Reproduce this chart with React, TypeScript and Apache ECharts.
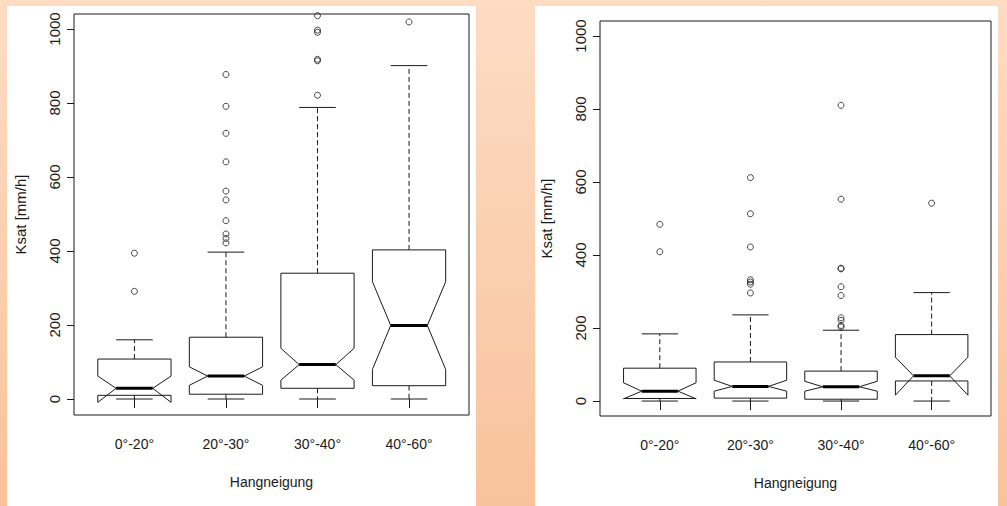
import React, { useEffect, useRef } from "react";
import * as echarts from "echarts";

const categories = ["0°-20°", "20°-30°", "30°-40°", "40°-60°"];
const yTicks = [0, 200, 400, 600, 800, 1000];
const xTicks = [1, 2, 3, 4];
const yAxisName = "Ksat [mm/h]";
const xAxisName = "Hangneigung";

// left panel
const leftLowerWhisker = [0, 0, 0, 0];
const leftQ1 = [10, 13, 29, 36];
const leftNotchLow = [-9, 37, 51, 80];
const leftMedian = [29, 62, 93, 199];
const leftNotchHigh = [62, 87, 137, 317];
const leftQ3 = [108, 167, 340, 403];
const leftUpperWhisker = [160, 397, 788, 901];
const leftOutliers = [
  [291, 394],
  [422, 434, 446, 482, 538, 562, 641, 718, 791, 877],
  [821, 914, 918, 991, 997, 1036],
  [1019],
];

// right panel
const rightLowerWhisker = [0, 0, 0, 0];
const rightQ1 = [7, 8, 5, 55];
const rightNotchLow = [6, 27, 27, 16];
const rightMedian = [27, 40, 39, 69];
const rightNotchHigh = [50, 57, 54, 120];
const rightQ3 = [90, 107, 82, 182];
const rightUpperWhisker = [184, 236, 194, 297];
const rightOutliers = [
  [409, 484],
  [296, 320, 326, 332, 422, 513, 612],
  [203, 207, 221, 228, 289, 313, 362, 364, 553, 810],
  [542],
];

const FONT = "'Liberation Sans', Arial, Helvetica, sans-serif";
const INK = "#1a1a1a";

function boxData(lw: number[], q1: number[], nl: number[], med: number[], nh: number[], q3: number[], uw: number[]) {
  return categories.map((_, i) => [i + 1, lw[i], q1[i], nl[i], med[i], nh[i], q3[i], uw[i]]);
}
function outlierData(o: number[][]) {
  const out: number[][] = [];
  o.forEach((vals, i) => vals.forEach((v) => out.push([i + 1, v])));
  return out;
}

function renderBox(params: any, api: any) {
  const x = api.value(0);
  const lw = api.value(1);
  const q1 = api.value(2);
  const nl = api.value(3);
  const med = api.value(4);
  const nh = api.value(5);
  const q3 = api.value(6);
  const uw = api.value(7);
  const w = 0.4;
  const P = (dx: number, v: number) => api.coord([x + dx, v]);
  const pts = [
    P(-w, q1), P(-w, nl), P(-w / 2, med), P(-w, nh), P(-w, q3),
    P(w, q3), P(w, nh), P(w / 2, med), P(w, nl), P(w, q1),
  ];
  const seg = (a: number[], b: number[], style: any) => ({
    type: "line",
    shape: { x1: a[0], y1: a[1], x2: b[0], y2: b[1] },
    style: Object.assign({ stroke: INK, lineWidth: 1 }, style),
  });
  return {
    type: "group",
    children: [
      seg(P(0, q3), P(0, uw), { lineDash: [5, 3] }),
      seg(P(0, q1), P(0, lw), { lineDash: [5, 3] }),
      seg(P(-0.2, uw), P(0.2, uw), {}),
      seg(P(-0.2, lw), P(0.2, lw), {}),
      { type: "polygon", shape: { points: pts }, style: { fill: "none", stroke: INK, lineWidth: 1 } },
      seg(P(-w / 2, med), P(w / 2, med), { lineWidth: 3, stroke: "#000" }),
    ],
  };
}

function makeAxes(idx: number, yMin: number, yMax: number) {
  const xAxis = {
    type: "value",
    gridIndex: idx,
    min: 0.34,
    max: 4.655,
    splitLine: { show: false },
    axisLine: { show: false },
    axisTick: { show: true, length: 9, customValues: xTicks, lineStyle: { color: INK } },
    axisLabel: {
      show: true,
      customValues: xTicks,
      formatter: (v: number) => categories[Math.round(v) - 1] || "",
      margin: 22,
      fontSize: 14,
      color: INK,
      fontFamily: FONT,
    },
    name: xAxisName,
    nameLocation: "middle",
    nameGap: 60,
    nameTextStyle: { fontSize: 14, color: INK, fontFamily: FONT },
  };
  const yAxis = {
    type: "value",
    gridIndex: idx,
    min: yMin,
    max: yMax,
    splitLine: { show: false },
    axisLine: { show: false },
    axisTick: { show: true, length: 7, customValues: yTicks, lineStyle: { color: INK } },
    axisLabel: {
      show: true,
      customValues: yTicks,
      formatter: (v: number) => String(Math.round(v)),
      rotate: 90,
      margin: 12,
      fontSize: 15,
      color: INK,
      fontFamily: FONT,
    },
    name: yAxisName,
    nameLocation: "middle",
    nameGap: 46,
    nameTextStyle: { fontSize: 15, color: INK, fontFamily: FONT },
  };
  return { xAxis, yAxis };
}

export default function App() {
  const ref = useRef<HTMLDivElement>(null);
  useEffect(() => {
    if (!ref.current) return;
    const chart = echarts.init(ref.current, null, { renderer: "svg" });
    const a0 = makeAxes(0, -43.2, 1040.5);
    const a1 = makeAxes(1, -41, 1041);
    const gridStyle = { show: true, borderColor: INK, borderWidth: 1, backgroundColor: "transparent" };
    chart.setOption({
      animation: false,
      graphic: [
        {
          type: "rect",
          z: -10,
          shape: { x: 0, y: 0, width: 1007, height: 506 },
          style: {
            fill: new echarts.graphic.LinearGradient(0, 0, 0, 1, [
              { offset: 0, color: "#fddcc4" },
              { offset: 1, color: "#f8c29c" },
            ]),
          },
        },
        { type: "rect", z: -9, shape: { x: 7, y: 6, width: 469, height: 500 }, style: { fill: "#ffffff" } },
        { type: "rect", z: -9, shape: { x: 535, y: 6, width: 463, height: 500 }, style: { fill: "#ffffff" } },
      ],
      grid: [
        Object.assign({ left: 74, right: 538, top: 14, bottom: 91 }, gridStyle),
        Object.assign({ left: 600, right: 16, top: 21, bottom: 90 }, gridStyle),
      ],
      xAxis: [a0.xAxis, a1.xAxis],
      yAxis: [a0.yAxis, a1.yAxis],
      series: [
        {
          type: "custom",
          xAxisIndex: 0,
          yAxisIndex: 0,
          renderItem: renderBox,
          dimensions: ["x", "lw", "q1", "nl", "med", "nh", "q3", "uw"],
          encode: { x: 0, y: [1, 2, 3, 4, 5, 6, 7] },
          data: boxData(leftLowerWhisker, leftQ1, leftNotchLow, leftMedian, leftNotchHigh, leftQ3, leftUpperWhisker),
        },
        {
          type: "scatter",
          xAxisIndex: 0,
          yAxisIndex: 0,
          symbol: "circle",
          symbolSize: 6,
          itemStyle: { color: "rgba(0,0,0,0)", borderColor: INK, borderWidth: 1 },
          data: outlierData(leftOutliers),
        },
        {
          type: "custom",
          xAxisIndex: 1,
          yAxisIndex: 1,
          renderItem: renderBox,
          dimensions: ["x", "lw", "q1", "nl", "med", "nh", "q3", "uw"],
          encode: { x: 0, y: [1, 2, 3, 4, 5, 6, 7] },
          data: boxData(rightLowerWhisker, rightQ1, rightNotchLow, rightMedian, rightNotchHigh, rightQ3, rightUpperWhisker),
        },
        {
          type: "scatter",
          xAxisIndex: 1,
          yAxisIndex: 1,
          symbol: "circle",
          symbolSize: 6,
          itemStyle: { color: "rgba(0,0,0,0)", borderColor: INK, borderWidth: 1 },
          data: outlierData(rightOutliers),
        },
      ],
    });
    return () => chart.dispose();
  }, []);
  return (
    <div
      ref={ref}
      style={{ position: "absolute", left: 0, top: 0, width: 1007, height: 506 }}
    />
  );
}
